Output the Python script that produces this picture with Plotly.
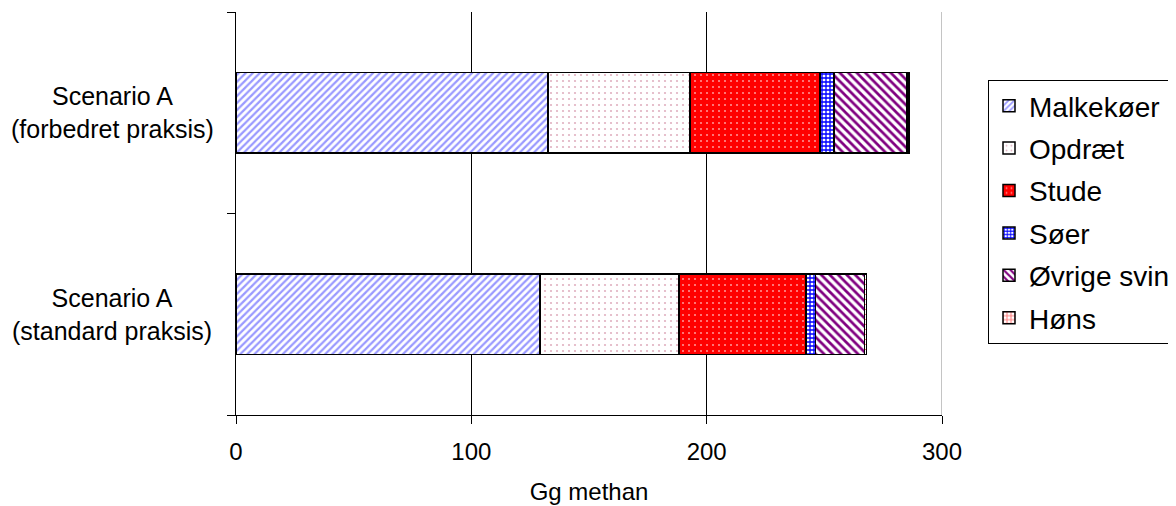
import plotly.graph_objects as go

categories = ["standard", "forbedret"]
category_labels = ["Scenario A<br>(standard praksis)", "Scenario A<br>(forbedret praksis)"]

series_names = ["Malkekøer", "Opdræt", "Stude", "Søer", "Øvrige svin", "Høns"]
malkekoer = [129.2, 132.6]
opdraet = [59.1, 60.3]
stude = [53.9, 55.3]
soeer = [4.0, 5.9]
oevrige_svin = [20.8, 31.1]
hoens = [1.0, 0.8]
series_values = [malkekoer, opdraet, stude, soeer, oevrige_svin, hoens]

x_ticks = [0, 100, 200, 300]

styles = [
    dict(shape="/", fg="#9999FF", bg="#FFFFFF", size=5, solidity=0.45),
    dict(shape=".", fg="#E0B0C0", bg="#FFFFFF", size=6, solidity=0.1),
    dict(shape=".", fg="#FF9090", bg="#FF0000", size=6, solidity=0.1),
    dict(shape="+", fg="#0000FF", bg="#FFFFFF", size=4, solidity=0.55),
    dict(shape="\\", fg="#800080", bg="#FFFFFF", size=6, solidity=0.45),
    dict(shape="+", fg="#FF7070", bg="#FFFFFF", size=5, solidity=0.4),
]

FONT = "Liberation Sans, Arial, sans-serif"

# page body has an 8px margin; plot area in page coords: x 236..942, y 12..415
L, R, T, B = 228, 1176 - 934, 4, 506 - 407

fig = go.Figure()
for name, vals, st in zip(series_names, series_values, styles):
    fig.add_trace(go.Bar(
        y=categories, x=vals, name=name, orientation="h",
        legendgroup=name,
        marker=dict(
            color=st["bg"],
            line=dict(color="#000000", width=1.5),
            pattern=dict(shape=st["shape"], fgcolor=st["fg"], bgcolor=st["bg"],
                         size=st["size"], solidity=st["solidity"], fillmode="replace"),
        ),
    ))

for cat, lab in zip(categories, category_labels):
    fig.add_annotation(x=-0.1756, xref="paper", y=cat, yref="y", text=lab,
                       showarrow=False, xanchor="center", yanchor="middle", align="center",
                       font=dict(family=FONT, size=25, color="#000000"))

fig.add_shape(type="line", x0=300, x1=300, y0=0, y1=1, xref="x", yref="paper",
              line=dict(color="#888888", width=1), layer="below")

fig.update_layout(
    width=1176, height=506,
    margin=dict(l=L, r=R, t=T, b=B, autoexpand=False),
    barmode="stack", bargap=0.6,
    paper_bgcolor="white", plot_bgcolor="white",
    font=dict(family=FONT, color="#000000"),
    showlegend=True,
    legend=dict(x=(988 - 236) / 706, y=(415 - 80) / 403, xanchor="left", yanchor="top",
                bordercolor="#000000", borderwidth=1, bgcolor="white",
                font=dict(family=FONT, size=28, color="#000000"),
                tracegroupgap=3, traceorder="grouped"),
    xaxis=dict(range=[0, 300], tickvals=x_ticks, showgrid=True, gridcolor="#000000", gridwidth=1,
               showline=True, linecolor="#000000", linewidth=1, zeroline=False,
               ticks="outside", ticklen=8, tickcolor="#000000",
               ticklabelstandoff=7,
               tickfont=dict(family=FONT, size=24, color="#000000"),
               title=dict(text="Gg methan", font=dict(family=FONT, size=24, color="#000000"), standoff=19)),
    yaxis=dict(categoryorder="array", categoryarray=categories, showgrid=False,
               showline=True, linecolor="#000000", linewidth=1, zeroline=False,
               ticks="outside", ticklen=8, tickcolor="#000000", tickson="boundaries",
               showticklabels=False),
)

fig.write_html("out.html")
